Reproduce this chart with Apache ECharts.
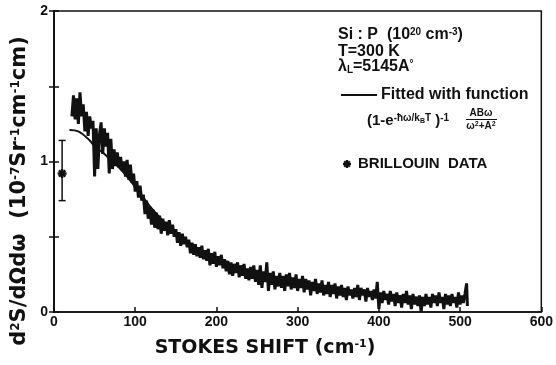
<!DOCTYPE html>
<html><head><meta charset="utf-8">
<script src="https://cdn.jsdelivr.net/npm/echarts@6/dist/echarts.min.js"></script>
<style>html,body{margin:0;padding:0;background:#fff}#c{width:556px;height:365px}</style>
</head><body><div id="c"></div>
<script>
const xTickValues = [0,100,200,300,400,500,600];
const yTickLabels = ['0','1','2'];
const ramanPoints = [
[22,1.30],[24,1.44],[26,1.28],[28,1.42],[30,1.25],[32,1.46],[34,1.30],[36,1.38],
[38,1.20],[40,1.33],[42,1.17],[44,1.30],[46,1.22],
[48,1.27],[50,0.90],[52,1.22],[54,0.95],[56,1.18],
[58,1.26],[60,1.05],[62,1.22],
[64,1.10],[66,1.19],[68,0.92],[70,1.15],[72,0.95],
[74,1.08],[76,0.97],[78,1.06],[80,0.96],[82,1.03],[84,0.94],[86,1.00],
[88,0.90],[90,1.01],[92,0.88],[94,0.98],[96,0.86],[98,0.92],
[100,0.80],[102,0.87],[104,0.76],[106,0.84],[108,0.74],[110,0.78],[112,0.65],
[114,0.74],[116,0.62],[118,0.70],[120,0.58],[122,0.68],[124,0.56],[126,0.66],[128,0.55],
[130,0.64],[132,0.52],[134,0.62],[136,0.54],[138,0.60],[140,0.51],[142,0.61],[144,0.52],[146,0.58],[148,0.50],
[150,0.55],[152,0.46],[154,0.53],[156,0.44],[158,0.52],[160,0.45],[162,0.50],[164,0.43],
[166,0.48],[168,0.39],[170,0.46],[172,0.38],[174,0.45],[176,0.37],[178,0.43],[180,0.36],[182,0.44],[184,0.35],[186,0.41],
[188,0.34],[190,0.42],[192,0.31],[194,0.39],[196,0.32],[198,0.40],[200,0.30],[202,0.37],[204,0.31],[206,0.38],[208,0.29],[210,0.35],
[212,0.27],[214,0.34],[216,0.25],[218,0.33],[220,0.24],[222,0.32],[224,0.26],[226,0.33],[228,0.23],[230,0.31],[232,0.24],[234,0.32],[236,0.22],[238,0.29],
[240,0.21],[242,0.30],[244,0.22],[246,0.31],[248,0.20],[250,0.28],
[252,0.18],[254,0.31],[256,0.16],[258,0.27],[260,0.20],[262,0.33],[264,0.14],[266,0.26],[268,0.18],[270,0.27],[272,0.15],[274,0.24],
[276,0.17],[278,0.26],[280,0.16],[282,0.24],[284,0.14],[286,0.25],[288,0.17],[290,0.26],[292,0.15],[294,0.23],[296,0.16],[298,0.25],[300,0.14],[302,0.22],[304,0.16],[306,0.24],
[308,0.13],[310,0.22],[312,0.15],[314,0.21],[316,0.11],[318,0.20],[320,0.14],[322,0.22],[324,0.12],[326,0.19],[328,0.13],[330,0.21],[332,0.11],[334,0.18],[336,0.12],[338,0.20],
[340,0.10],[342,0.18],[344,0.12],[346,0.19],[348,0.09],[350,0.17],[352,0.11],[354,0.18],[356,0.10],[358,0.16],[360,0.08],[362,0.17],[364,0.11],[366,0.15],[368,0.09],[370,0.16],
[372,0.10],[374,0.18],[376,0.08],[378,0.16],[380,0.11],[382,0.15],[384,0.07],[386,0.16],[388,0.10],[390,0.14],[392,0.08],[394,0.15],[396,0.09],[398,0.20],
[400,0.02],[402,0.13],[404,0.06],[406,0.14],[408,0.08],[410,0.12],[412,0.05],[414,0.14],[416,0.07],[418,0.12],[420,0.04],[422,0.13],[424,0.06],[426,0.11],[428,0.03],[430,0.12],[432,0.06],[434,0.14],[436,0.05],[438,0.11],[440,0.02],[442,0.12],[444,0.05],[446,0.10],[448,0.04],[450,0.11],[452,0.00],
[454,0.10],[456,0.04],[458,0.12],[460,0.05],[462,0.10],[464,0.03],[466,0.12],[468,0.06],[470,0.11],[472,0.04],[474,0.13],[476,0.06],[478,0.10],[480,0.02],[482,0.12],[484,0.05],[486,0.11],[488,0.04],[490,0.12],[492,0.06],[494,0.10],[496,0.03],[498,0.13],[500,0.05],[502,0.11],[504,0.06],[506,0.12],[508,0.19],[509,0.04]
];
const fitPoints = [[19,1.21],[30,1.20],[44,1.14],[50,1.10],[60,1.06],[70,1.01],[80,0.96],[90,0.90],[100,0.83],[110,0.76],[120,0.69],[130,0.63],[140,0.57],[150,0.52],[160,0.48],[175,0.43],[190,0.38],[200,0.355],[225,0.30],[250,0.26],[275,0.225],[300,0.195],[325,0.17],[350,0.15],[400,0.12],[450,0.095],[505,0.08]];
const brillouinX = [10];
const brillouinY = [0.92];
const brillouinLow = [0.74];
const brillouinHigh = [1.14];

const FONT = 'Liberation Sans';
const WIDE = 'DejaVu Sans';
const INK = '#111';
const chart = echarts.init(document.getElementById('c'), null, {renderer:'canvas'});

function asterisk(cx, cy, r, style) {
  const ch = [];
  for (let k = 0; k < 4; k++) {
    const a = k * Math.PI / 4;
    ch.push({type:'line', shape:{x1:cx - r*Math.cos(a), y1:cy - r*Math.sin(a), x2:cx + r*Math.cos(a), y2:cy + r*Math.sin(a)}, style});
  }
  return ch;
}

const supStyle = (fs, ff) => ({fontSize: fs, fontWeight:'bold', fontFamily: ff || FONT, fill: INK, verticalAlign:'top'});
const subStyle = (fs, ff) => ({fontSize: fs, fontWeight:'bold', fontFamily: ff || FONT, fill: INK, verticalAlign:'bottom'});
const baseStyle = (fs, ff) => ({fontSize: fs, fontWeight:'bold', fontFamily: ff || FONT, fill: INK});

const option = {
  animation: false,
  backgroundColor: '#fff',
  grid: {left: 54, right: 8, top: 11, bottom: 53, show: true, borderColor: INK, borderWidth: 1.5},
  xAxis: [{
    type: 'value', min: 0, max: 600, interval: 100,
    axisLine: {show: true, onZero: false, lineStyle: {color: INK, width: 1.5}},
    axisTick: {show: true, inside: true, length: 5, lineStyle: {color: INK, width: 1.5}},
    axisLabel: {color: INK, fontSize: 14, fontWeight: 'bold', fontFamily: FONT, margin: 3,
      formatter: v => xTickValues.indexOf(v) >= 0 ? String(v) : ''},
    splitLine: {show: false}
  }],
  yAxis: [{
    type: 'value', min: 0, max: 2, interval: 0.5,
    axisLine: {show: true, onZero: false, lineStyle: {color: INK, width: 1.5}},
    axisTick: {show: true, inside: true, length: 5, lineStyle: {color: INK, width: 1.5}},
    axisLabel: {color: INK, fontSize: 14, fontWeight: 'bold', fontFamily: FONT, margin: 6,
      formatter: v => (Math.abs(v - Math.round(v)) < 1e-9 ? yTickLabels[Math.round(v)] : '')},
    splitLine: {show: false}
  }, {
    type: 'value', min: 0, max: 2, interval: 0.5, position: 'right',
    axisLine: {show: true, lineStyle: {color: INK, width: 1.5}},
    axisTick: {show: true, inside: true, length: 5, lineStyle: {color: INK, width: 1.5}},
    axisLabel: {show: false}, splitLine: {show: false}
  }],
  series: [
    {type: 'line', data: ramanPoints, showSymbol: false, symbol: 'none', lineStyle: {color: INK, width: 3}, z: 3},
    {type: 'line', data: fitPoints, smooth: 0.4, showSymbol: false, symbol: 'none', lineStyle: {color: INK, width: 2}, z: 4},
    {type: 'custom', data: brillouinX.map((x, i) => [x, brillouinY[i], brillouinLow[i], brillouinHigh[i]]),
      renderItem: (params, api) => {
        const p = api.coord([api.value(0), api.value(1)]);
        const lo = api.coord([api.value(0), api.value(2)]);
        const hi = api.coord([api.value(0), api.value(3)]);
        const st = {stroke: INK, lineWidth: 1.5};
        const children = [
          {type:'line', shape:{x1:p[0], y1:lo[1], x2:p[0], y2:hi[1]}, style: st},
          {type:'line', shape:{x1:p[0]-3.5, y1:lo[1], x2:p[0]+3.5, y2:lo[1]}, style: st},
          {type:'line', shape:{x1:p[0]-3.5, y1:hi[1], x2:p[0]+3.5, y2:hi[1]}, style: st}
        ].concat(asterisk(p[0], p[1], 4.5, {stroke: INK, lineWidth: 2.4}));
        return {type: 'group', children};
      }, z: 5}
  ],
  graphic: [
    {type:'text', x: 20, y: 191, rotation: Math.PI/2, style: Object.assign(baseStyle(21, WIDE), {
      text: 'd{sup|2}S/dΩdω  (10{sup|-7}Sr{sup|-1}cm{sup|-1}cm)', align:'center', verticalAlign:'middle',
      rich: {sup: supStyle(12, WIDE)}})},
    {type:'text', x: 265, y: 348, style: Object.assign(baseStyle(19, WIDE), {
      text: 'STOKES SHIFT (cm{sup|-1})', align:'center', verticalAlign:'middle',
      rich: {sup: supStyle(11, WIDE)}})},
    {type:'text', x: 338, y: 35, style: Object.assign(baseStyle(16), {
      text: 'Si : P  (10{sup|20} cm{sup|-3})', align:'left', verticalAlign:'middle', rich: {sup: supStyle(10)}})},
    {type:'text', x: 338, y: 52, style: Object.assign(baseStyle(16), {
      text: 'T=300 K', align:'left', verticalAlign:'middle'})},
    {type:'text', x: 338, y: 67, style: Object.assign(baseStyle(16), {
      text: 'λ{sub|L}=5145A{sup|°}', align:'left', verticalAlign:'middle', rich: {sup: supStyle(10), sub: subStyle(10)}})},
    {type:'line', shape:{x1:341, y1:95, x2:377, y2:95}, style:{stroke: INK, lineWidth: 2}},
    {type:'text', x: 381, y: 95, style: Object.assign(baseStyle(16), {
      text: 'Fitted with function', align:'left', verticalAlign:'middle'})},
    {type:'text', x: 367, y: 121, style: Object.assign(baseStyle(15), {
      text: '(1-e{sup|-ħω/k}{ssub|B}{sup|T} ){sup|-1}', align:'left', verticalAlign:'middle',
      rich: {sup: supStyle(10), ssub: {fontSize: 7, fontWeight:'bold', fontFamily: FONT, fill: INK, verticalAlign:'middle'}}})},
    {type:'text', x: 481, y: 113, style: Object.assign(baseStyle(10), {
      text: 'ABω', align:'center', verticalAlign:'middle'})},
    {type:'line', shape:{x1:466, y1:119.5, x2:497, y2:119.5}, style:{stroke: INK, lineWidth: 1}},
    {type:'text', x: 481, y: 126, style: Object.assign(baseStyle(10), {
      text: 'ω{sup|2}+A{sup|2}', align:'center', verticalAlign:'middle', rich: {sup: supStyle(7)}})},
    {type:'group', children: asterisk(347, 164, 4, {stroke: INK, lineWidth: 2.2})},
    {type:'text', x: 358, y: 164, style: Object.assign(baseStyle(15), {
      text: 'BRILLOUIN  DATA', align:'left', verticalAlign:'middle'})}
  ]
};
chart.setOption(option);
</script>
</body></html>
